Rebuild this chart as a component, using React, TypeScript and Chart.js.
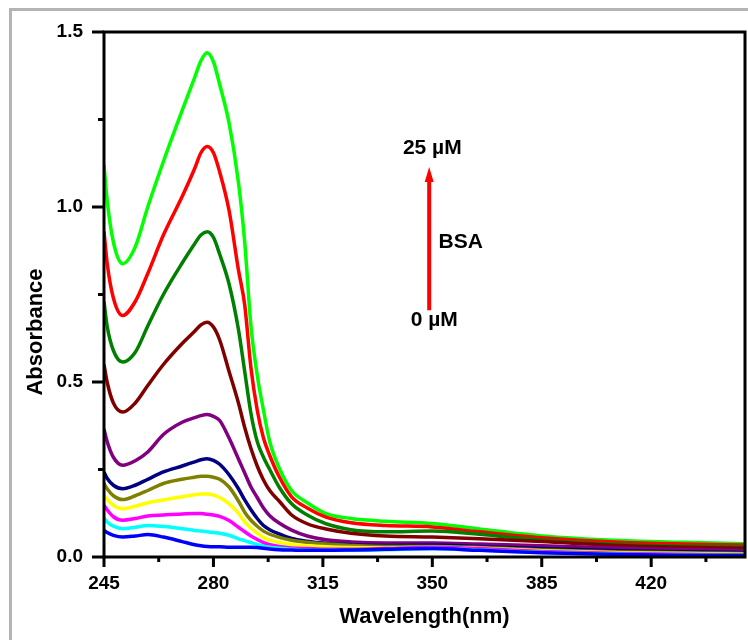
import React, { useEffect, useRef } from "react";
import { Chart, registerables } from "chart.js";

Chart.register(...registerables);

// Wavelength grid (nm)
const wavelengths = [245, 246, 248, 251, 255, 259, 264, 270, 274, 276, 278, 280, 282, 285, 288, 290, 292, 294, 296, 298, 301, 305, 310, 316, 324, 335, 350, 365, 385, 410, 430, 450];

// Absorbance spectra, BSA 0 -> 25 µM
const bsa0 = [0.076, 0.07, 0.062, 0.057, 0.06, 0.064, 0.057, 0.044, 0.035, 0.032, 0.03, 0.029, 0.029, 0.028, 0.028, 0.028, 0.028, 0.027, 0.025, 0.023, 0.021, 0.02, 0.019, 0.019, 0.02, 0.022, 0.024, 0.019, 0.012, 0.007, 0.005, 0.004];
const bsa1 = [0.11, 0.1, 0.088, 0.081, 0.085, 0.09, 0.087, 0.081, 0.076, 0.074, 0.072, 0.07, 0.068, 0.062, 0.052, 0.047, 0.041, 0.036, 0.031, 0.028, 0.025, 0.022, 0.02, 0.019, 0.019, 0.021, 0.024, 0.02, 0.013, 0.008, 0.006, 0.005];
const bsa2 = [0.148, 0.135, 0.115, 0.105, 0.11, 0.117, 0.12, 0.123, 0.124, 0.124, 0.122, 0.12, 0.116, 0.104, 0.085, 0.072, 0.06, 0.05, 0.041, 0.035, 0.03, 0.026, 0.024, 0.022, 0.022, 0.024, 0.028, 0.024, 0.016, 0.01, 0.008, 0.006];
const bsa3 = [0.176, 0.165, 0.148, 0.138, 0.145, 0.155, 0.163, 0.172, 0.178, 0.18, 0.18, 0.177, 0.17, 0.152, 0.125, 0.1, 0.083, 0.068, 0.056, 0.048, 0.042, 0.036, 0.032, 0.029, 0.027, 0.026, 0.028, 0.025, 0.018, 0.012, 0.01, 0.008];
const bsa4 = [0.21, 0.195, 0.175, 0.164, 0.175, 0.19, 0.21, 0.222, 0.228, 0.231, 0.231, 0.228, 0.222, 0.2, 0.16, 0.128, 0.105, 0.088, 0.074, 0.065, 0.056, 0.048, 0.042, 0.037, 0.033, 0.03, 0.03, 0.027, 0.02, 0.014, 0.012, 0.01];
const bsa5 = [0.243, 0.225, 0.205, 0.195, 0.205, 0.222, 0.243, 0.26, 0.272, 0.278, 0.281, 0.276, 0.265, 0.235, 0.195, 0.163, 0.135, 0.11, 0.09, 0.078, 0.066, 0.053, 0.045, 0.039, 0.035, 0.033, 0.034, 0.03, 0.024, 0.018, 0.015, 0.013];
const bsa6 = [0.365, 0.33, 0.285, 0.262, 0.275, 0.3, 0.35, 0.385, 0.398, 0.404, 0.407, 0.402, 0.39, 0.34, 0.28, 0.24, 0.2, 0.17, 0.14, 0.118, 0.097, 0.077, 0.06, 0.049, 0.043, 0.04, 0.04, 0.037, 0.032, 0.025, 0.021, 0.018];
const bsa7 = [0.55, 0.5, 0.44, 0.414, 0.44, 0.49, 0.55, 0.61, 0.645, 0.663, 0.671, 0.657, 0.62, 0.53, 0.44, 0.37, 0.31, 0.26, 0.22, 0.19, 0.16, 0.12, 0.095, 0.08, 0.068, 0.06, 0.057, 0.052, 0.044, 0.033, 0.028, 0.025];
const bsa8 = [0.73, 0.66, 0.59, 0.557, 0.585, 0.66, 0.75, 0.84, 0.895, 0.92, 0.929, 0.913, 0.865, 0.78, 0.65, 0.53, 0.41, 0.33, 0.285, 0.25, 0.2, 0.152, 0.12, 0.095, 0.078, 0.072, 0.074, 0.065, 0.048, 0.036, 0.031, 0.029];
const bsa9 = [0.93, 0.84, 0.74, 0.69, 0.73, 0.81, 0.92, 1.03, 1.11, 1.155, 1.173, 1.155, 1.1, 0.99, 0.82, 0.72, 0.54, 0.42, 0.34, 0.29, 0.23, 0.172, 0.14, 0.114, 0.098, 0.09, 0.086, 0.072, 0.055, 0.042, 0.037, 0.034];
const bsa10 = [1.12, 1.02, 0.9, 0.838, 0.886, 1.0, 1.13, 1.276, 1.37, 1.418, 1.441, 1.415, 1.35, 1.24, 1.07, 0.9, 0.66, 0.52, 0.42, 0.33, 0.255, 0.19, 0.155, 0.124, 0.11, 0.102, 0.096, 0.08, 0.06, 0.047, 0.042, 0.038];

const seriesValues = [bsa0, bsa1, bsa2, bsa3, bsa4, bsa5, bsa6, bsa7, bsa8, bsa9, bsa10];
const seriesLabels = ["0 µM", "2.5 µM", "5 µM", "7.5 µM", "10 µM", "12.5 µM", "15 µM", "17.5 µM", "20 µM", "22.5 µM", "25 µM"];
const seriesColors = ["#0000ff", "#00ffff", "#ff00ff", "#ffff00", "#808000", "#000080", "#800080", "#800000", "#008000", "#ff0000", "#00ff00"];

// Axis ticks
const xMajorTicks = [245, 280, 315, 350, 385, 420];
const xMinorTicks = [262.5, 297.5, 332.5, 367.5, 402.5, 437.5];
const yMajorTicks = [0, 0.5, 1.0, 1.5];
const yMinorTicks = [0.25, 0.75, 1.25];

// Annotation (data coordinates)
const arrowX = 349;
const arrowFrom = 0.705;
const arrowTo = 1.114;
const annotTop = { text: "25 µM", x: 350, y: 1.167 };
const annotMid = { text: "BSA", x: 352, y: 0.9 };
const annotBottom = { text: "0 µM", x: 350.6, y: 0.676 };

const FONT = "'Liberation Sans', Arial, Helvetica, sans-serif";

const decorPlugin = {
  id: "decor",
  afterDraw(chart: any) {
    const { ctx, chartArea: a, scales } = chart;
    const x = scales.x;
    const y = scales.y;
    ctx.save();
    ctx.strokeStyle = "#000";
    ctx.lineWidth = 3;
    ctx.lineCap = "butt";
    ctx.strokeRect(a.left, a.top, a.right - a.left, a.bottom - a.top);

    ctx.beginPath();
    xMajorTicks.forEach((v) => {
      const px = x.getPixelForValue(v);
      ctx.moveTo(px, a.bottom);
      ctx.lineTo(px, a.bottom + 10);
    });
    xMinorTicks.forEach((v) => {
      const px = x.getPixelForValue(v);
      ctx.moveTo(px, a.bottom);
      ctx.lineTo(px, a.bottom + 5);
    });
    yMajorTicks.forEach((v) => {
      const py = y.getPixelForValue(v);
      ctx.moveTo(a.left, py);
      ctx.lineTo(a.left - 12, py);
    });
    yMinorTicks.forEach((v) => {
      const py = y.getPixelForValue(v);
      ctx.moveTo(a.left, py);
      ctx.lineTo(a.left - 6, py);
    });
    ctx.stroke();

    // y axis title
    ctx.save();
    ctx.translate(36, 332);
    ctx.rotate(-Math.PI / 2);
    ctx.fillStyle = "#000";
    ctx.font = `bold 22px ${FONT}`;
    ctx.textAlign = "center";
    ctx.textBaseline = "middle";
    ctx.fillText("Absorbance", 0, 0);
    ctx.restore();

    // arrow
    const ax = x.getPixelForValue(arrowX);
    const ay0 = y.getPixelForValue(arrowFrom);
    const ay1 = y.getPixelForValue(arrowTo);
    ctx.strokeStyle = "#ff0000";
    ctx.fillStyle = "#ff0000";
    ctx.lineWidth = 4;
    ctx.beginPath();
    ctx.moveTo(ax, ay0);
    ctx.lineTo(ax, ay1 + 12);
    ctx.stroke();
    ctx.beginPath();
    ctx.moveTo(ax, ay1);
    ctx.lineTo(ax - 4.5, ay1 + 15);
    ctx.lineTo(ax + 4.5, ay1 + 15);
    ctx.closePath();
    ctx.fill();

    // annotation texts
    ctx.fillStyle = "#000";
    ctx.font = `bold 21px ${FONT}`;
    ctx.textBaseline = "middle";
    ctx.textAlign = "center";
    ctx.fillText(annotTop.text, x.getPixelForValue(annotTop.x), y.getPixelForValue(annotTop.y));
    ctx.fillText(annotBottom.text, x.getPixelForValue(annotBottom.x), y.getPixelForValue(annotBottom.y));
    ctx.textAlign = "left";
    ctx.fillText(annotMid.text, x.getPixelForValue(annotMid.x), y.getPixelForValue(annotMid.y));
    ctx.restore();
  },
};

export default function App() {
  const canvasRef = useRef<HTMLCanvasElement | null>(null);

  useEffect(() => {
    if (!canvasRef.current) return;
    const datasets = seriesValues.map((vals, i) => ({
      label: seriesLabels[i],
      data: wavelengths.map((w, j) => ({ x: w, y: vals[j] })),
      borderColor: seriesColors[i],
      backgroundColor: seriesColors[i],
      borderWidth: 3.5,
      pointRadius: 0,
      fill: false,
      cubicInterpolationMode: "monotone" as const,
    }));
    const chart = new Chart(canvasRef.current, {
      type: "line",
      data: { datasets },
      options: {
        animation: false,
        responsive: false,
        maintainAspectRatio: false,
        devicePixelRatio: 1,
        layout: { padding: { left: 0, top: 32, right: 3, bottom: 0 } },
        plugins: {
          legend: { display: false },
          tooltip: { enabled: false },
          title: { display: false },
        },
        scales: {
          x: {
            type: "linear",
            min: 245,
            max: 450,
            afterBuildTicks: (scale: any) => {
              scale.ticks = xMajorTicks.map((v) => ({ value: v }));
            },
            afterFit: (scale: any) => {
              scale.height = 83;
            },
            grid: { display: false, drawTicks: true, tickLength: 10 },
            border: { display: false },
            ticks: {
              color: "#000",
              font: { family: FONT, size: 19, weight: "bold" },
              padding: 5,
              maxRotation: 0,
              autoSkip: false,
              callback: (v: any) => String(v),
            },
            title: {
              display: true,
              text: "Wavelength(nm)",
              color: "#000",
              font: { family: FONT, size: 22, weight: "bold" },
              padding: { top: 0, bottom: 10 },
            },
          },
          y: {
            type: "linear",
            min: 0,
            max: 1.5,
            afterBuildTicks: (scale: any) => {
              scale.ticks = yMajorTicks.map((v) => ({ value: v }));
            },
            afterFit: (scale: any) => {
              scale.width = 104;
            },
            grid: { display: false, drawTicks: true, tickLength: 12 },
            border: { display: false },
            ticks: {
              color: "#000",
              font: { family: FONT, size: 19, weight: "bold" },
              padding: 9,
              autoSkip: false,
              callback: (v: any) => Number(v).toFixed(1),
            },
            title: { display: false },
          },
        },
      },
      plugins: [decorPlugin],
    });
    return () => chart.destroy();
  }, []);

  return (
    <div
      style={{
        position: "absolute",
        left: 0,
        top: 0,
        width: 748,
        height: 640,
        overflow: "hidden",
        background: "#fff",
      }}
    >
      <div
        style={{
          position: "absolute",
          left: 9,
          top: 8,
          width: 800,
          height: 700,
          borderLeft: "3px solid #b4b4b4",
          borderTop: "3px solid #b4b4b4",
        }}
      />
      <canvas
        ref={canvasRef}
        width={748}
        height={640}
        style={{ position: "absolute", left: 0, top: 0, width: 748, height: 640 }}
      />
    </div>
  );
}
